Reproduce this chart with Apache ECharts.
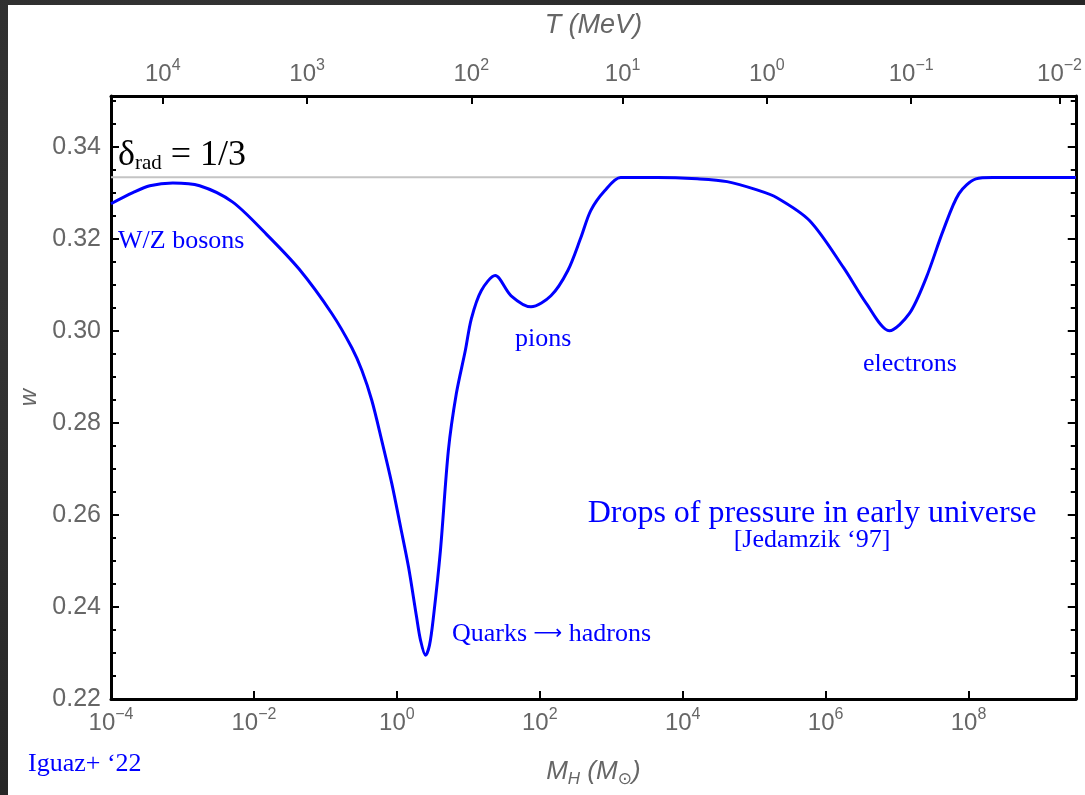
<!DOCTYPE html>
<html><head><meta charset="utf-8">
<style>
html,body{margin:0;padding:0;}
#wrap{position:relative;width:1085px;height:795px;background:#2d2d2d;background-image:radial-gradient(circle at 20% 30%,#3a3a3a 0,#262626 60%);overflow:hidden;}
#paper{position:absolute;left:8px;top:5px;right:0;bottom:0;background:#fff;}
#c{position:absolute;left:0;top:0;width:1085px;height:795px;}
</style>
<script src="https://cdn.jsdelivr.net/npm/echarts@6/dist/echarts.min.js"></script>
</head><body>
<div id="wrap"><div id="paper"></div><div id="c"></div></div>
<script>
// log10 of horizon mass M_H (solar masses)
const logMH = [-4.000,-3.694,-3.457,-3.136,-2.760,-2.301,-1.827,-1.368,-0.908,-0.630,-0.490,-0.351,-0.212,-0.072,0.053,0.164,0.276,0.331,0.401,0.457,0.512,0.610,0.721,0.833,0.958,1.042,1.181,1.376,1.599,1.877,2.156,2.393,2.574,2.713,2.908,3.131,3.646,4.203,4.621,5.039,5.318,5.777,6.251,6.571,6.891,7.170,7.407,7.643,7.866,8.103,8.340,9.500];
// equation of state w
const wValues = [0.3276,0.3300,0.3315,0.3321,0.3315,0.3280,0.3210,0.3134,0.3037,0.2963,0.2914,0.2849,0.2762,0.2669,0.2573,0.2486,0.2378,0.2328,0.2295,0.2317,0.2378,0.2523,0.2740,0.2864,0.2957,0.3026,0.3087,0.3120,0.3076,0.3052,0.3076,0.3131,0.3202,0.3261,0.3304,0.3333,0.3333,0.3330,0.3324,0.3306,0.3289,0.3239,0.3137,0.3059,0.3000,0.3037,0.3115,0.3217,0.3298,0.3330,0.3333,0.3333];
const wRad = 1/3;
// bottom axis ticks: exponents of M_H
const bottomTickExp = [-4,-2,0,2,4,6,8];
// top axis ticks: exponents of T (MeV) and where they sit in log10 M_H
const topTickExp = [4,3,2,1,0,-1,-2];
const topTickLogMH = [-3.276,-1.256,1.042,3.159,5.178,7.198,9.273];
// y ticks
const yMajorTicks = [0.22,0.24,0.26,0.28,0.30,0.32,0.34];
const yMinorTicks = [0.225,0.23,0.235,0.245,0.25,0.255,0.265,0.27,0.275,0.285,0.29,0.295,0.305,0.31,0.315,0.325,0.33,0.335,0.345,0.35];

const X_MIN = -4, X_MAX = 9.5, Y_MIN = 0.22, Y_MAX = 0.351;
const GRAY = '#666666';
const SANS = 'Liberation Sans, Arial, sans-serif';
const SERIF = 'Liberation Serif, Times New Roman, serif';
const BLUE = '#0000ff';

function sup(e){ return String(e).replace('-', '\u2212'); }
const expRich = {
  b: {fontSize: 24, fontFamily: SANS, color: GRAY, lineHeight: 32},
  s: {fontSize: 16, fontFamily: SANS, color: GRAY, lineHeight: 17, verticalAlign: 'top'}
};

const chart = echarts.init(document.getElementById('c'), null, {renderer: 'canvas'});

function yAxisDef(pos, ticks, len, showLabel, showLine){
  return {
    type: 'value', position: pos, min: Y_MIN, max: Y_MAX,
    splitLine: {show: false},
    axisLine: {show: showLine, onZero: false, lineStyle: {color: '#000', width: 3}},
    axisTick: {show: true, inside: true, length: len, customValues: ticks, lineStyle: {color: '#000', width: 2}},
    axisLabel: {show: showLabel, customValues: ticks, margin: 10, fontSize: 25, fontFamily: SANS, color: GRAY,
      formatter: v => v.toFixed(2)},
    name: showLabel ? 'w' : '', nameLocation: 'middle', nameGap: 66,
    nameTextStyle: {fontSize: 24, fontFamily: SANS, color: GRAY, fontStyle: 'italic'}
  };
}

const option = {
  animation: false,
  grid: {left: 111, right: 5, top: 96, bottom: 96, containLabel: false},
  xAxis: [
    {
      type: 'value', position: 'bottom', min: X_MIN, max: X_MAX,
      splitLine: {show: false},
      axisLine: {show: true, onZero: false, lineStyle: {color: '#000', width: 3}},
      axisTick: {show: true, inside: true, length: 8, customValues: bottomTickExp, lineStyle: {color: '#000', width: 2}},
      axisLabel: {customValues: bottomTickExp, margin: 8, formatter: v => '{b|10}{s|' + sup(v) + '}', rich: expRich},
      name: '{i|M}{si|H}{n| (}{i|M}{sn|\u2299}{n|)}', nameLocation: 'middle', nameGap: 57,
      nameTextStyle: {
        rich: {
          i: {fontSize: 26, fontFamily: SANS, color: GRAY, fontStyle: 'italic', lineHeight: 32},
          n: {fontSize: 26, fontFamily: SANS, color: GRAY, fontStyle: 'italic', lineHeight: 32},
          si: {fontSize: 17, fontFamily: SANS, color: GRAY, fontStyle: 'italic', verticalAlign: 'bottom', lineHeight: 20},
          sn: {fontSize: 17, fontFamily: 'DejaVu Sans, sans-serif', color: GRAY, verticalAlign: 'bottom', lineHeight: 20}
        }
      }
    },
    {
      type: 'value', position: 'top', min: X_MIN, max: X_MAX,
      splitLine: {show: false},
      axisLine: {show: true, onZero: false, lineStyle: {color: '#000', width: 3}},
      axisTick: {show: true, inside: true, length: 8, customValues: topTickLogMH, lineStyle: {color: '#000', width: 2}},
      axisLabel: {customValues: topTickLogMH, margin: 6, rich: expRich,
        formatter: v => {
          let k = 0, d = Infinity;
          topTickLogMH.forEach((t, i) => { if (Math.abs(t - v) < d) { d = Math.abs(t - v); k = i; } });
          return '{b|10}{s|' + sup(topTickExp[k]) + '}';
        }},
      name: '{i|T}{n| (MeV)}', nameLocation: 'middle', nameGap: 57,
      nameTextStyle: {
        rich: {
          i: {fontSize: 27, fontFamily: SANS, color: GRAY, fontStyle: 'italic'},
          n: {fontSize: 27, fontFamily: SANS, color: GRAY, fontStyle: 'italic'}
        }
      }
    }
  ],
  yAxis: [
    yAxisDef('left', yMajorTicks, 8, true, true),
    yAxisDef('left', yMinorTicks, 5, false, false),
    yAxisDef('right', yMajorTicks, 8, false, true),
    yAxisDef('right', yMinorTicks, 5, false, false)
  ],
  series: [
    {
      type: 'line', xAxisIndex: 0, yAxisIndex: 0,
      data: [[X_MIN, wRad], [X_MAX, wRad]],
      showSymbol: false, silent: true,
      lineStyle: {color: '#c4c4c4', width: 2},
      z: 2
    },
    {
      type: 'line', xAxisIndex: 0, yAxisIndex: 0,
      data: logMH.map((x, i) => [x, wValues[i]]),
      showSymbol: false, smooth: 0.3,
      lineStyle: {color: BLUE, width: 3},
      z: 3
    }
  ],
  graphic: [
    {type: 'text', x: 118, y: 156, z: 10, style: {
      text: '{d|\u03b4}{s|rad}{d| = 1/3}', align: 'left', textAlign: 'left', verticalAlign: 'middle', textVerticalAlign: 'middle',
      rich: {
        d: {fontSize: 36, fontFamily: SERIF, fill: '#000', color: '#000', lineHeight: 36},
        s: {fontSize: 21, fontFamily: SERIF, fill: '#000', color: '#000', lineHeight: 21, verticalAlign: 'bottom'}
      }}},
    {type: 'text', x: 118, y: 241, z: 10, style: {text: 'W/Z bosons', font: '26px ' + SERIF, fill: BLUE, align: 'left', textAlign: 'left', verticalAlign: 'middle', textVerticalAlign: 'middle'}},
    {type: 'text', x: 515, y: 339, z: 10, style: {text: 'pions', font: '26px ' + SERIF, fill: BLUE, align: 'left', textAlign: 'left', verticalAlign: 'middle', textVerticalAlign: 'middle'}},
    {type: 'text', x: 863, y: 364, z: 10, style: {text: 'electrons', font: '26px ' + SERIF, fill: BLUE, align: 'left', textAlign: 'left', verticalAlign: 'middle', textVerticalAlign: 'middle'}},
    {type: 'text', x: 452, y: 634, z: 10, style: {
      text: '{t|Quarks }{a|\u27f6}{t| hadrons}', align: 'left', textAlign: 'left', verticalAlign: 'middle', textVerticalAlign: 'middle',
      rich: {
        t: {fontSize: 26, fontFamily: SERIF, fill: BLUE, color: BLUE, lineHeight: 30},
        a: {fontSize: 20, fontFamily: 'DejaVu Sans, sans-serif', fill: BLUE, color: BLUE, lineHeight: 30}
      }}},
    {type: 'text', x: 812, y: 514, z: 10, style: {text: 'Drops of pressure in early universe', font: '32px ' + SERIF, fill: BLUE, align: 'center', textAlign: 'center', verticalAlign: 'middle', textVerticalAlign: 'middle'}},
    {type: 'text', x: 812, y: 540, z: 10, style: {text: '[Jedamzik \u201897]', font: '26px ' + SERIF, fill: BLUE, align: 'center', textAlign: 'center', verticalAlign: 'middle', textVerticalAlign: 'middle'}},
    {type: 'text', x: 28, y: 764, z: 10, style: {text: 'Iguaz+ \u201822', font: '26px ' + SERIF, fill: BLUE, align: 'left', textAlign: 'left', verticalAlign: 'middle', textVerticalAlign: 'middle'}}
  ]
};
chart.setOption(option);
</script>
</body></html>
